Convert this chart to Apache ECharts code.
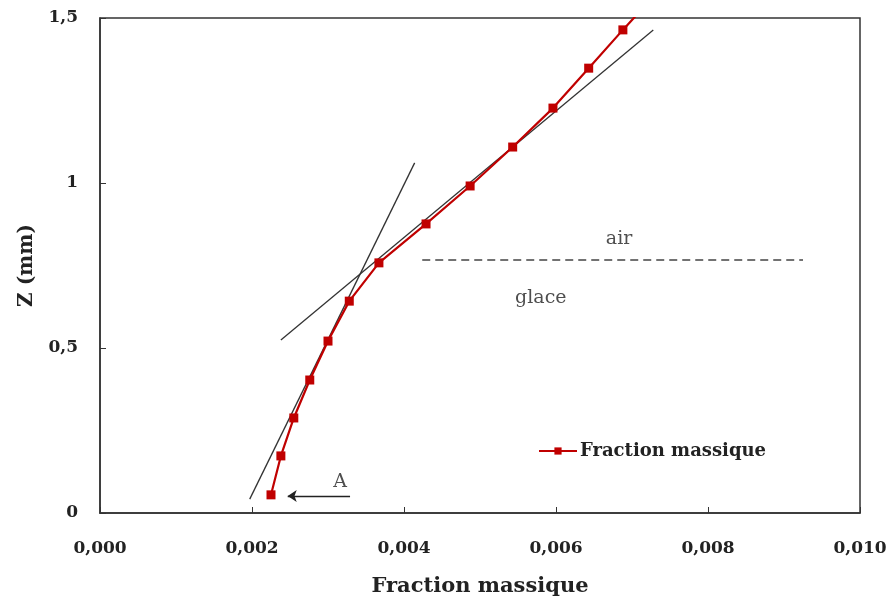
<!DOCTYPE html>
<html>
<head>
<meta charset="utf-8">
<script src="https://cdn.jsdelivr.net/npm/echarts@6/dist/echarts.min.js"></script>
<style>
  html, body { margin: 0; padding: 0; background: #fff; }
  #main { width: 891px; height: 599px; }
</style>
</head>
<body>
<div id="main"></div>
<script>
// mesures : fraction massique en fonction de la profondeur Z (mm)
var fraction = [0.00225, 0.00238, 0.00255, 0.00276, 0.00300, 0.00328, 0.00367,
  0.00429, 0.00487, 0.00543, 0.00596, 0.00643, 0.00688, 0.00734];
var zMm = [0.055, 0.173, 0.288, 0.403, 0.521, 0.642, 0.758,
  0.876, 0.991, 1.109, 1.227, 1.348, 1.464, 1.579];

// tangentes tracées à la main
var tangent1X = [0.00197, 0.00414];
var tangent1Y = [0.042, 1.061];
var tangent2X = [0.00238, 0.00728];
var tangent2Y = [0.524, 1.464];

// interface air / glace
var interfaceX = [0.00424, 0.00925];
var interfaceY = [0.767, 0.767];

// flèche A
var arrowX = [0.00329, 0.00247];
var arrowY = [0.0515, 0.0515];

var noteText = ['air', 'glace', 'A'];
var noteX = [0.00683, 0.00580, 0.00316];
var noteY = [0.829, 0.652, 0.093];

var serif = '"DejaVu Serif", "Liberation Serif", serif';

function pairs(xs, ys) {
  var out = [];
  for (var i = 0; i < xs.length; i++) {
    out.push([xs[i], ys[i]]);
  }
  return out;
}

var notes = [];
for (var i = 0; i < noteText.length; i++) {
  notes.push({ value: [noteX[i], noteY[i]], name: noteText[i] });
}

var chart = echarts.init(document.getElementById('main'));

var option = {
  animation: false,
  textStyle: { fontFamily: serif },
  grid: {
    left: 100, right: 31, top: 18, bottom: 86,
    outerBoundsMode: 'none',
    containLabel: false,
    show: true, borderColor: '#333', borderWidth: 1.5
  },
  legend: {
    data: ['Fraction massique'],
    left: 533, top: 437,
    itemWidth: 38, itemHeight: 9, itemGap: 4,
    textStyle: { fontFamily: serif, fontWeight: 'bold', fontSize: 18, color: '#222', padding: [0, 0, 0, -2] }
  },
  xAxis: {
    type: 'value',
    min: 0, max: 0.010, interval: 0.002,
    name: 'Fraction massique',
    nameLocation: 'middle',
    nameGap: 63,
    nameTextStyle: { fontFamily: serif, fontWeight: 'bold', fontSize: 21, color: '#222' },
    axisLine: { lineStyle: { color: '#333', width: 1.5 } },
    axisTick: { inside: true, length: 6, lineStyle: { color: '#333' } },
    axisLabel: {
      margin: 27,
      fontFamily: serif, fontWeight: 'bold', fontSize: 17, color: '#222',
      formatter: function (v) { return v.toFixed(3).replace('.', ','); }
    },
    splitLine: { show: false }
  },
  yAxis: {
    type: 'value',
    min: 0, max: 1.5, interval: 0.5,
    name: 'Z (mm)',
    nameLocation: 'middle',
    nameGap: 63,
    nameRotate: 90,
    nameTextStyle: { fontFamily: serif, fontWeight: 'bold', fontSize: 20, color: '#222' },
    axisLine: { lineStyle: { color: '#333', width: 1.5 } },
    axisTick: { inside: true, length: 6, lineStyle: { color: '#333' } },
    axisLabel: {
      margin: 22,
      fontFamily: serif, fontWeight: 'bold', fontSize: 17, color: '#222',
      formatter: function (v) { return String(v).replace('.', ','); }
    },
    splitLine: { show: false }
  },
  series: [
    {
      name: 'tangente 1',
      type: 'line',
      data: pairs(tangent1X, tangent1Y),
      showSymbol: false,
      lineStyle: { color: '#333', width: 1.3 },
      silent: true
    },
    {
      name: 'tangente 2',
      type: 'line',
      data: pairs(tangent2X, tangent2Y),
      showSymbol: false,
      lineStyle: { color: '#333', width: 1.3 },
      silent: true
    },
    {
      name: 'interface',
      type: 'line',
      data: pairs(interfaceX, interfaceY),
      showSymbol: false,
      lineStyle: { color: '#444', width: 1.5, type: [8, 5] },
      silent: true
    },
    {
      name: 'fleche',
      type: 'line',
      data: pairs(arrowX, arrowY),
      showSymbol: false,
      lineStyle: { opacity: 0 },
      markLine: {
        silent: true,
        symbol: ['none', 'arrow'],
        symbolSize: 9,
        label: { show: false },
        lineStyle: { color: '#222', width: 1.3, type: 'solid' },
        data: [[{ coord: [arrowX[0], arrowY[0]] }, { coord: [arrowX[1], arrowY[1]] }]]
      }
    },
    {
      name: 'Fraction massique',
      type: 'line',
      data: pairs(fraction, zMm),
      symbol: 'rect',
      symbolSize: 9,
      clip: true,
      itemStyle: { color: '#c00000' },
      lineStyle: { color: '#c00000', width: 2.2 },
      z: 5
    },
    {
      name: 'notes',
      type: 'scatter',
      data: notes,
      symbolSize: 0,
      silent: true,
      label: {
        show: true,
        position: 'inside',
        formatter: '{b}',
        fontFamily: serif,
        fontSize: 19,
        color: '#222'
      }
    }
  ]
};

chart.setOption(option);
</script>
</body>
</html>
